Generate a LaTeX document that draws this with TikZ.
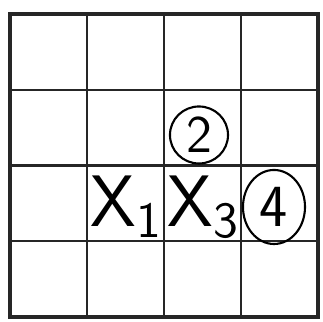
\documentclass[tikz,border=0pt]{standalone}
\usepackage{amsmath}
\usepackage{tikz}
\usetikzlibrary{positioning,shapes.geometric}

\begin{document}
\begin{tikzpicture}[
    x=0.01cm, y=-0.01cm,
    gridline/.style={line width=0.7pt, black!85},
    frame/.style={line width=1pt, black!85},
    entry/.style={inner sep=0pt, font=\fontsize{21}{23}\selectfont\sffamily},
    ringed/.style={draw, ellipse, inner sep=0pt, line width=0.6pt, font=\fontsize{17}{19}\selectfont\sffamily}
  ]
    \useasboundingbox (0,0) rectangle (323,322);
    % grid 4 x 4
    \coordinate (tl) at (10,14);
    \coordinate (br) at (318,317);
    \foreach \i in {1,2,3} {
      \draw[gridline] (10+77*\i,14) -- (10+77*\i,317);
      \draw[gridline] (10,14+75.75*\i) -- (318,14+75.75*\i);
    }
    \draw[frame] (tl) rectangle (br);
    % entries
    \node[ringed, minimum width=0.58cm, minimum height=0.57cm, font=\fontsize{15}{17}\selectfont\sffamily] (two) at (199,135) {2};
    \node[entry] (xone) at (127,207) {$\mathsf{X}_{\mathsf{1}}$};
    \node[entry] (xthree) at (204,207) {$\mathsf{X}_{\mathsf{3}}$};
    \node[ringed, minimum width=0.62cm, minimum height=0.74cm] (four) at (274,207) {4};
  \end{tikzpicture}
\end{document}
